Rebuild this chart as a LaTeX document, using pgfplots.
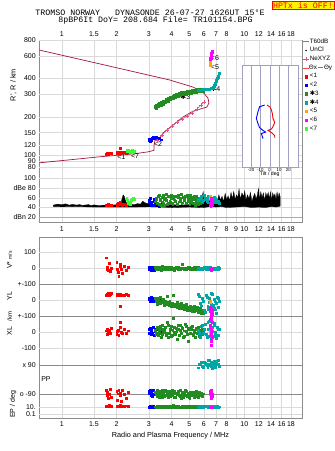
\documentclass[border=0pt]{standalone}
\usepackage{fontspec}
\setmainfont{Liberation Sans}
\newfontfamily\monofont{Liberation Mono}
\newfontfamily\symfont{DejaVu Sans}
\usepackage{pgfplots}
\usepackage{pgfplotstable}
\pgfplotsset{compat=1.18}

\definecolor{modelred}{HTML}{A3153F}
\definecolor{nepink}{HTML}{E0508A}
\definecolor{cA}{HTML}{FF0000}
\definecolor{cB}{HTML}{0000FF}
\definecolor{cC}{HTML}{228B22}
\definecolor{cD}{HTML}{00A5A5}
\definecolor{cE}{HTML}{FFA500}
\definecolor{cF}{HTML}{FF00FF}
\definecolor{cG}{HTML}{33FF33}
\definecolor{framegray}{HTML}{8C8C8C}
\definecolor{gridgray}{HTML}{DADADA}
\definecolor{sepgray}{HTML}{8A8A8A}
\definecolor{lavender}{HTML}{A8A8D8}
\definecolor{tiltgrid}{HTML}{A0A0C0}

\newcommand\tkfont{\fontsize{7}{8}\selectfont}

% echo groups: frequency (MHz), range R' (km), amplitude (dB),
% V* (m/s), YL and XL (km), polarization PP and EP (deg)
\pgfplotstableread{
f    R   dB  V   YL  XL  PP   EP
1.76 102 44  66  30  8   -70  15
1.77 103 45  5   35  -12 -100 20
1.78 103 44  -3  40  20  -80  12
1.80 102 46  -10 45  -5  -120 18
1.82 104 45  30  28  12  -95  25
1.84 103 44  -20 38  -8  -60  14
1.87 103 45  0   42  25  -110 16
2.00 105 47  40  35  -15 -75  22
2.02 104 45  -8  30  5   -130 18
2.04 106 48  -25 40  10  -90  20
2.05 105 50  -48 32  -20 -65  12
2.08 104 46  10  38  30  -100 25
2.10 114 51  25  -36 61  -85  15
2.12 105 47  -5  28  0   -140 20
2.15 106 45  -30 33  -10 -70  18
2.20 105 46  15  30  15  -95  14
2.25 104 45  -12 35  -5  -120 22
2.30 105 46  5   30  8   -80  16
}\grpA
\pgfplotstableread{
f    R   dB  V   YL  XL  PP   EP
3.00 133 55  5   15  20  -75  12
3.02 130 50  -8  8   -5  -90  10
3.05 129 60  10  -5  25  -65  15
3.08 131 48  -15 20  -15 -100 8
3.10 134 45  0   5   10  -80  12
3.13 136 52  -5  -10 -8  -105 10
3.16 138 44  8   12  30  -70  14
3.20 135 58  -10 0   -18 -95  9
3.25 137 46  3   -8  5   -85  12
3.30 139 50  -3  10  15  -90  11
3.40 136 43  0   -12 -10 -75  10
3.50 132 47  -6  2   0   -100 13
}\grpB
\pgfplotstableread{
f    R   dB  V   YL  XL  PP   EP
3.25 239 52  5   15  10  -80  12
3.28 236 57  -1  0   -5  -88  11
3.30 244 60  -3  -10 -15 -95  10
3.33 247 50  4   -25 22  -105 13
3.35 243 48  8   5   30  -70  15
3.38 241 63  -4  12  -20 -78  9
3.40 250 65  -6  -18 -5  -110 8
3.43 253 47  6   -8  8   -98  16
3.45 249 55  2   20  15  -85  20
3.48 246 58  -2  -20 35  -72  10
3.50 256 45  -10 -5  -30 -100 11
3.53 259 52  3   2   -12 -112 12
3.55 255 62  12  -12 45  -65  14
3.58 253 66  -7  -15 18  -84  14
3.60 262 50  -2  8   5   -90  9
3.63 265 45  1   -30 -3  -96  8
3.66 262 58  4   -22 20  -105 16
3.69 259 60  5   -5  28  -68  11
3.72 270 68  -8  -15 -10 -75  10
3.75 272 55  -3  -25 -18 -102 13
3.78 269 47  6   25  60  -95  12
3.81 266 49  2   -12 40  -90  10
3.84 277 63  0   -20 -35 -115 18
3.87 280 64  -6  -35 -8  -76  15
3.90 276 53  -5  -8  12  -80  9
3.93 273 51  7   -18 20  -108 9
3.96 284 66  10  -30 35  -100 14
3.99 286 59  -2  -40 -25 -86  12
4.02 282 49  -4  -18 -20 -70  11
4.05 279 46  4   -22 10  -98  14
4.08 290 60  3   32  88  -90  25
4.12 292 63  -5  -38 32  -74  10
4.15 288 56  -12 -25 0   -110 10
4.19 285 53  1   -28 -15 -112 13
4.22 296 64  7   -35 25  -85  13
4.26 298 47  6   -45 5   -92  11
4.29 294 46  -1  -15 -45 -95  8
4.33 291 65  -3  -32 45  -82  16
4.36 302 61  5   -28 15  -75  16
4.40 304 52  2   -50 -20 -102 9
4.43 300 54  -7  -40 40  -105 12
4.47 298 59  -6  -35 12  -70  12
4.50 308 67  2   -20 -10 -120 10
4.54 310 49  4   -52 28  -96  14
4.58 303 50  27  -45 22  -80  14
4.62 300 62  -1  -40 -35 -114 10
4.66 310 58  -3  -30 -25 -95  9
4.70 312 55  3   -58 8   -86  13
4.74 305 63  4   -50 50  -70  18
4.78 302 50  -4  -45 38  -76  11
4.82 313 48  -9  -25 5   -100 11
4.86 315 66  0   -62 -12 -104 9
4.90 308 60  1   -42 -60 -88  12
4.94 305 53  5   -50 22  -92  15
4.98 316 55  6   -55 18  -110 15
5.02 318 47  -3  -65 -5  -118 10
5.06 311 66  -5  -35 -8  -78  10
5.10 308 61  1   -45 15  -80  12
5.14 318 51  3   -48 30  -98  13
5.18 320 56  -5  -68 35  -100 14
5.22 313 62  -2  -60 -15 -82  9
5.26 310 49  4   -52 -22 -86  11
5.30 320 57  8   -40 10  -115 16
5.34 322 63  -2  -72 0   -108 9
5.38 315 45  -6  -55 -30 -92  11
5.42 312 51  6   -58 18  -78  13
5.46 323 64  2   -65 25  -72  12
5.50 325 58  -3  -62 -10 -94  10
5.54 318 53  -4  -45 -5  -105 10
5.58 316 46  1   -78 28  -112 12
5.62 325 59  5   -70 15  -88  14
5.66 327 60  -2  -55 -28 -82  15
5.70 321 48  -1  -52 -20 -96  9
5.74 319 52  4   -68 10  -98  10
5.78 328 61  3   -75 8   -84  12
5.82 329 57  -5  -85 -5  -90  12
5.86 323 50  -3  -60 -12 -100 11
5.90 321 54  2   -65 20  -104 11
5.93 330 56  0   -80 5   -90  13
}\grpC
\pgfplotstableread{
f    R   dB  V   YL  XL  PP   EP
5.60 322 55  -5  40  10  75   12
5.68 323 58  2   25  -10 95   11
5.75 324 60  3   -20 -30 100  15
5.82 325 63  -4  -35 35  110  13
5.90 326 52  -2  10  45  85   10
5.98 327 55  3   -5  -5  78   10
6.05 327 65  5   -60 20  110  18
6.12 328 60  -2  -75 50  102  12
6.20 329 58  -8  30  -15 95   12
6.25 329 52  6   20  -30 88   14
6.30 330 50  2   -40 60  80   9
6.35 330 64  -5  -55 15  125  10
6.40 331 62  -3  15  -25 120  14
6.45 332 57  1   -15 70  98   12
6.50 332 56  6   -70 25  90   11
6.55 333 54  -3  45  -10 82   11
6.60 334 59  -6  -25 -35 105  13
6.65 335 60  4   -85 30  112  13
6.70 336 53  0   35  5   70   10
6.75 340 50  -1  -30 -25 92   10
6.80 345 61  4   -50 40  115  16
6.85 352 58  3   5   55  105  12
6.90 360 57  -4  -10 -20 88   12
6.95 370 55  -2  -60 0   80   11
7.00 380 54  2   -80 -40 95   10
7.05 390 51  1   -20 -30 118  13
7.10 400 50  -2  20  30  100  14
7.15 410 53  -4  10  20  96   10
7.20 420 52  5   -45 -20 120  11
7.29 438 49  0   -5  15  85   12
}\grpD
\pgfplotstableread{
f    R   dB  V   YL  XL  PP   EP
6.48 505 62  0   -11 5   -90  10
6.49 520 61  -3  -5  -10 -85  11
6.50 535 63  2   -15 0   -95  10
6.50 548 60  -1  -8  8   -90  10
}\grpE
\pgfplotstableread{
f    R   dB  V   YL   XL  PP   EP
6.50 565 45  -5  -45  80  -75  10
6.52 575 50  0   -60  40  -90  12
6.54 585 42  -8  -80  10  -110 9
6.55 595 55  -3  -95  -20 -80  11
6.57 605 48  -10 -110 -50 -100 10
6.58 615 52  2   -70  -81 -95  12
6.60 625 58  -6  -50  20  -120 9
6.62 635 44  -2  -120 -10 -85  11
6.64 645 47  0   -65  60  -105 10
6.66 655 53  -4  -90  -35 -95  12
6.55 580 60  -7  -130 5   -70  11
6.60 600 46  1   -100 -60 -115 10
}\grpF
\pgfplotstableread{
f    R   dB
2.27 108 60
2.28 109 56
2.30 110 52
2.32 108 49
2.34 107 48
2.36 106 47
2.38 107 50
2.41 108 55
2.44 109 58
2.47 108 60
2.50 107 57
}\grpG

\pgfplotsset{scale only axis, major tick length=0pt, minor tick length=0pt,
  tick label style={font=\tkfont}}
\pgfkeys{/pgf/number format/assume math mode=true}
\tikzset{echomk/.style={only marks, mark=square*, mark size=0.95pt,
  mark options={draw=none}}}

\newcommand\echoes[1]{%
  \addplot[echomk,cA] table[x=f,y=#1]{\grpA};
  \addplot[echomk,cB] table[x=f,y=#1]{\grpB};
  \addplot[echomk,cC] table[x=f,y=#1]{\grpC};
  \addplot[echomk,cD] table[x=f,y=#1]{\grpD};
  \addplot[echomk,cE] table[x=f,y=#1]{\grpE};
  \addplot[echomk,cF] table[x=f,y=#1]{\grpF};
}

\begin{document}
\begin{tikzpicture}[font=\tkfont]
\path[use as bounding box] (0pt,0pt) rectangle (335pt,451pt);

% header
\node[font=\monofont\fontsize{8.3}{9}\selectfont] at (150pt,438.3pt)
  {TROMSO NORWAY\ \ \ DYNASONDE 26-07-27 1626UT 15°E};
\node[font=\monofont\fontsize{8.3}{9}\selectfont] at (155.5pt,430.3pt)
  {8pBP6It DoY= 208.684 File= TR101154.BPG};
\node[draw=red, fill=yellow, text=red, inner sep=1pt, anchor=north east,
  font=\monofont\fontsize{8.3}{9}\selectfont] at (334pt,450pt) {HPTx is OFF!};

% upper frame with frequency grid
\begin{axis}[at={(39.3pt,228.3pt)}, anchor=south west, width=262.4pt, height=182.7pt,
  xmode=log, xmin=0.754, xmax=20.6,
  xtick={1,1.5,2,3,4,5,6,7,8,9,10,12,14,16,18}, xticklabels={},
  ymin=0, ymax=1, ytick=\empty, xmajorgrids,
  grid style={gridgray}, axis line style={framegray}]
\end{axis}

% virtual range panel
\begin{axis}[at={(39.3pt,273pt)}, anchor=south west, width=262.4pt, height=138pt,
  xmode=log, xmin=0.754, xmax=20.6, ymode=log, ymin=66.1, ymax=800,
  axis line style={draw=none}, ymajorgrids, grid style={gridgray},
  xtick={1,1.5,2,3,4,5,6,7,8,9,10,12,14,16,18},
  xticklabels={1,1.5,2,3,4,5,6,7,8,,10,12,14,16,18},
  xticklabel pos=upper,
  ytick={80,90,100,120,150,200,300,400,600,800},
  yticklabels={80,90,100,120,150,200,300,400,600,800},
  legend style={at={(1.003,1.02)}, anchor=north west, draw=none,
    fill=none, inner sep=0pt, row sep=0pt,
    font=\fontsize{6.3}{7}\selectfont,
    nodes={inner sep=0.4pt, text height=5.3pt, text depth=2.6pt},
    /tikz/every even column/.style={column sep=1pt}},
  legend cell align=left]
\addlegendimage{legend image code/.code={\draw[gray,line width=0.8pt] (0pt,0pt) -- (6pt,0pt);}}
\addlegendentry{T60dB}
\addlegendimage{legend image code/.code={\fill[black] (3pt,0pt) circle (0.5pt);}}
\addlegendentry{UnCl}
\addlegendimage{legend image code/.code={\draw[nepink] (0pt,0pt) -- (6pt,0pt); \draw[nepink] (3pt,-2pt) -- (3pt,2pt);}}
\addlegendentry{NeXYZ}
\addlegendimage{legend image code/.code={\draw[red!75] (0pt,0pt) -- (6pt,0pt);}}
\addlegendentry{\kern-1pt Θx\,\textcolor{blue!60}{\rule[2pt]{5pt}{0.4pt}}\,Θy}
\addlegendimage{legend image code/.code={\fill[cA] (1.8pt,-1.3pt) rectangle (4.4pt,1.3pt);}}
\addlegendentry{<1}
\addlegendimage{legend image code/.code={\fill[cB] (1.8pt,-1.3pt) rectangle (4.4pt,1.3pt);}}
\addlegendentry{<2}
\addlegendimage{legend image code/.code={\fill[cC] (1.8pt,-1.3pt) rectangle (4.4pt,1.3pt);}}
\addlegendentry{{\symfont ✱}3}
\addlegendimage{legend image code/.code={\fill[cD] (1.8pt,-1.3pt) rectangle (4.4pt,1.3pt);}}
\addlegendentry{{\symfont ✱}4}
\addlegendimage{legend image code/.code={\fill[cE] (1.8pt,-1.3pt) rectangle (4.4pt,1.3pt);}}
\addlegendentry{<5}
\addlegendimage{legend image code/.code={\fill[cF] (1.8pt,-1.3pt) rectangle (4.4pt,1.3pt);}}
\addlegendentry{<6}
\addlegendimage{legend image code/.code={\fill[cG] (1.8pt,-1.3pt) rectangle (4.4pt,1.3pt);}}
\addlegendentry{<7}

% model trace
\addplot[modelred, line width=0.7pt, forget plot] coordinates {
 (0.754,667) (1.72,509) (3.915,388) (4.44,367) (5.23,342) (5.93,312)
 (6.32,280) (6.40,256) (6.23,238) (5.23,221) (4.61,199) (4.07,172)
 (3.585,149) (3.45,136) (3.24,131) (3.20,118) (3.20,109) (2.97,106)
 (2.455,102) (1.62,97) (1.065,91.3) (0.754,87)};
% electron density profile
\addplot[nepink, line width=0.5pt, mark=+, mark size=1.6pt, forget plot] coordinates {
 (3.323,131.1) (3.54,143.5) (3.77,157.1) (4.015,168.9) (4.277,181.6)
 (4.554,191.7) (4.85,202.4) (5.167,213.6) (5.503,229.6) (5.787,247)
 (6.01,260.6)};
\addplot[echomk,cA,forget plot] table[x=f,y=R]{\grpA};
\addplot[echomk,cG,forget plot] table[x=f,y=R]{\grpG};
\addplot[echomk,cB,forget plot] table[x=f,y=R]{\grpB};
\addplot[echomk,cC,forget plot,mark size=1.2pt] table[x=f,y=R]{\grpC};
\addplot[echomk,cD,forget plot] table[x=f,y=R]{\grpD};
\addplot[echomk,cE,forget plot] table[x=f,y=R]{\grpE};
\addplot[echomk,cF,forget plot] table[x=f,y=R]{\grpF};
\node at (axis cs:2.12,97) {<1};
\node at (axis cs:2.52,99) {<7};
\node at (axis cs:3.37,122) {<2};
\node at (axis cs:4.75,285) {{\symfont ✱}3};
\node at (axis cs:6.95,330) {{\symfont ✱}4};
\node at (axis cs:6.9,488) {<5};
\node at (axis cs:6.9,578) {<6};
\end{axis}

% tilt inset
\begin{axis}[at={(241.7pt,283.3pt)}, anchor=south west, width=56pt, height=102.7pt,
  xmin=-30, xmax=30, ymin=100, ymax=400, ytick=\empty,
  xtick={-20,-10,0,10,20}, xmajorgrids, grid style={tiltgrid},
  axis line style={tiltgrid}, axis background/.style={fill=white},
  tick label style={font=\fontsize{4.4}{5}\selectfont, inner sep=0.5pt},
  xlabel={Tilt / deg},
  xlabel style={font=\fontsize{5.2}{6}\selectfont, inner sep=0pt, yshift=0pt}]
\addplot[red, line width=0.9pt] coordinates {
 (-2.9,283) (0.5,277) (1.8,269) (2.9,257) (3.5,244) (5.4,232) (3.5,220)
 (1.8,213) (-1.8,209) (2.2,202) (5.4,193) (5.4,187)};
\addplot[blue, line width=0.9pt] coordinates {
 (-5.4,283) (-10.8,278) (-12.6,263) (-14.3,244) (-12.6,229) (-10.8,217)
 (-7.2,209) (-4.3,204) (-8.9,200) (-7.2,185)};
\end{axis}

% amplitude panel
\begin{axis}[at={(39.3pt,228.3pt)}, anchor=south west, width=262.4pt, height=44.7pt,
  xmode=log, xmin=0.754, xmax=20.6, ymin=8.9, ymax=100.6,
  axis line style={draw=none}, ymajorgrids, grid style={gridgray},
  xtick={1,1.5,2,3,4,5,6,7,8,9,10,12,14,16,18},
  xticklabels={1,1.5,2,3,4,5,6,7,8,9,10,12,14,16,18},
  ytick={40,60,80,100}, yticklabels={40,60,dBe 80,100},
  extra y ticks={20}, extra y tick labels={dBn 20},
  extra y tick style={grid style={lavender}}]
\addplot[fill=black, draw=black, line width=0.3pt] coordinates {
 (0.90,45) (0.95,47) (1.0,46) (1.05,47.5) (1.1,45) (1.15,46.5) (1.2,45)
 (1.25,46) (1.3,44.5) (1.4,46) (1.45,44) (1.5,45.5) (1.6,44) (1.7,45)
 (1.8,44) (1.9,45) (2.0,46) (2.1,47) (2.14,58) (2.17,66) (2.2,63)
 (2.23,55) (2.27,48) (2.4,47) (2.5,46) (2.6,48) (2.7,47) (2.78,53)
 (2.85,50) (2.95,48) (3.0,50) (3.2,46) (3.5,45) (4.0,46) (4.5,45)
 (5.0,46) (5.5,48) (5.8,55) (5.95,72) (6.0,56) (6.1,62) (6.2,52)
 (6.35,58) (6.5,50) (6.65,60) (6.8,53) (7.0,61) (7.1,52) (7.25,66)
 (7.4,55) (7.55,63) (7.7,52) (7.85,69) (8.0,56) (8.15,64) (8.3,54)
 (8.45,71) (8.6,58) (8.75,73) (8.9,56) (9.05,66) (9.2,60) (9.35,78)
 (9.5,57) (9.7,70) (9.9,62) (10.05,74) (10.2,55) (10.4,66) (10.6,58)
 (10.8,71) (11.0,52) (11.2,62) (11.4,69) (11.6,57) (11.8,67) (11.95,79)
 (12.1,56) (12.3,72) (12.5,60) (12.7,70) (12.9,54) (13.1,70) (13.3,62)
 (13.5,71) (13.7,58) (13.9,72) (14.1,55) (14.3,70) (14.5,62) (14.7,68)
 (14.9,56) (15.1,72) (15.3,60) (15.5,70) (15.7,62)
 (15.7,43) (15.0,41) (14.0,42) (13.0,40) (12.0,41) (11.0,40) (10.0,42)
 (9.0,41) (8.0,40) (7.5,42) (7.0,41) (6.5,42) (6.0,40) (5.0,41)
 (4.0,40) (3.5,41) (3.0,41.5) (2.5,41) (2.0,41) (1.5,41) (1.2,42)
 (1.0,41.5) (0.9,42)} -- cycle;
\echoes{dB}
\addplot[echomk,cG] table[x=f,y=dB]{\grpG};
\end{axis}

% lower frame
\begin{axis}[at={(39.3pt,32.7pt)}, anchor=south west, width=262.4pt, height=181.6pt,
  xmode=log, xmin=0.754, xmax=20.6,
  xtick={1,1.5,2,3,4,5,6,7,8,9,10,12,14,16,18},
  xticklabels={1,1.5,2,3,4,5,6,7,8,,10,12,14,16,18},
  ymin=0, ymax=1, ytick=\empty, xmajorgrids, grid style={gridgray},
  axis line style={framegray},
  xlabel={Radio and Plasma Frequency / MHz},
  xlabel style={font=\fontsize{7.3}{8}\selectfont, yshift=1pt}]
\end{axis}

% V*
\begin{axis}[at={(39.3pt,166.7pt)}, anchor=south west, width=262.4pt, height=47.6pt,
  xmode=log, xmin=0.754, xmax=20.6, xtick=\empty, clip=false,
  axis line style={draw=none}, ymajorgrids, grid style={gridgray},
  ymin=-100, ymax=197.5,
  ytick={0,100}, extra y ticks={-100}, extra y tick labels={+-100},
  extra y tick style={grid style={sepgray}}]
\echoes{V}
\end{axis}
% YL
\begin{axis}[at={(39.3pt,135pt)}, anchor=south west, width=262.4pt, height=31.7pt,
  xmode=log, xmin=0.754, xmax=20.6, xtick=\empty, clip=false,
  axis line style={draw=none}, ymajorgrids, grid style={gridgray},
  ymin=-100, ymax=100,
  ytick={0}, extra y ticks={-100}, extra y tick labels={+-100},
  extra y tick style={grid style={sepgray}}]
\echoes{YL}
\end{axis}
% XL
\begin{axis}[at={(39.3pt,96pt)}, anchor=south west, width=262.4pt, height=39pt,
  xmode=log, xmin=0.754, xmax=20.6, xtick=\empty, clip=false,
  axis line style={draw=none}, ymajorgrids, grid style={gridgray},
  ymin=-143.75, ymax=100, ytick={0,-100}]
\echoes{XL}
\end{axis}
% PP
\begin{axis}[at={(39.3pt,51pt)}, anchor=south west, width=262.4pt, height=45pt,
  xmode=log, xmin=0.754, xmax=20.6, xtick=\empty, clip=false,
  axis line style={draw=none}, ymajorgrids, grid style={sepgray},
  ymin=-129.9, ymax=155.3, ytick={90,-90}, yticklabels={x 90,o -90}]
\echoes{PP}
\end{axis}
% EP
\begin{axis}[at={(39.3pt,32.7pt)}, anchor=south west, width=262.4pt, height=18.3pt,
  xmode=log, xmin=0.754, xmax=20.6, xtick=\empty, clip=false,
  axis line style={draw=none}, ymajorgrids, grid style={gridgray},
  ymode=log, ymin=0.008, ymax=828, ytick={0.1,10}, yticklabels={0.1,10.}]
\echoes{EP}
\end{axis}

% axis titles
\node[rotate=90, font=\fontsize{7.3}{8}\selectfont] at (13.5pt,366pt) {R', R / km};
\node[rotate=90] at (9.5pt,191pt) {V* {\fontsize{5}{6}\selectfont m/s}};
\node[rotate=90] at (9.5pt,155pt) {YL};
\node[rotate=90] at (9.5pt,127.5pt) {XL\ \ \ {\fontsize{6}{6}\selectfont /km}};
\node at (46pt,71.7pt) {PP};
\node[rotate=90] at (13pt,46.5pt) {EP / deg};
\end{tikzpicture}
\end{document}
